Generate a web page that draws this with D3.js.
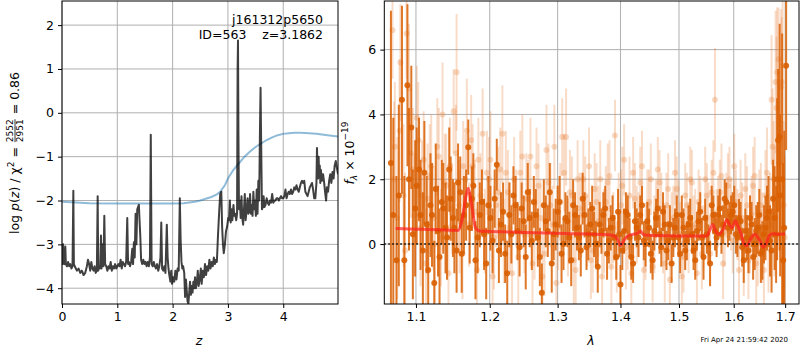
<!DOCTYPE html>
<html><head><meta charset="utf-8">
<script src="https://cdn.jsdelivr.net/npm/d3@7"></script>
<style>body{margin:0;background:#fff}text{font-family:"DejaVu Sans",sans-serif}</style>
</head><body><svg id="c" width="800" height="350"></svg>
<script>
// ---- p(z) panel data ----
const pzZ = [0.00,0.01,0.02,0.03,0.045,0.06,0.07,0.09,0.11,0.13,0.15,0.17,0.19,0.205,0.215,0.23,0.25,0.27,0.30,0.33,0.36,0.39,0.42,0.45,0.47,0.49,0.51,0.53,0.55,0.57,0.59,0.61,0.63,0.645,0.655,0.67,0.69,0.705,0.715,0.735,0.75,0.765,0.78,0.80,0.82,0.84,0.86,0.88,0.90,0.92,0.94,0.96,0.98,1.00,1.02,1.04,1.06,1.08,1.10,1.12,1.14,1.16,1.18,1.195,1.21,1.23,1.25,1.27,1.285,1.30,1.315,1.33,1.345,1.36,1.375,1.39,1.40,1.415,1.43,1.45,1.47,1.49,1.51,1.53,1.55,1.57,1.59,1.605,1.62,1.64,1.66,1.68,1.70,1.72,1.74,1.76,1.78,1.795,1.81,1.83,1.85,1.87,1.895,1.91,1.925,1.94,1.96,1.975,1.99,2.01,2.03,2.05,2.07,2.09,2.11,2.13,2.145,2.16,2.175,2.19,2.21,2.225,2.24,2.255,2.27,2.285,2.30,2.315,2.33,2.345,2.36,2.375,2.39,2.405,2.42,2.44,2.455,2.47,2.49,2.51,2.525,2.545,2.565,2.585,2.605,2.625,2.645,2.665,2.685,2.705,2.725,2.745,2.765,2.785,2.80,2.82,2.84,2.86,2.88,2.895,2.91,2.925,2.945,2.965,2.985,3.005,3.02,3.035,3.05,3.065,3.08,3.10,3.115,3.13,3.15,3.165,3.175,3.182,3.19,3.20,3.215,3.23,3.245,3.26,3.275,3.29,3.305,3.32,3.34,3.355,3.37,3.385,3.40,3.415,3.43,3.445,3.46,3.475,3.49,3.505,3.52,3.535,3.55,3.565,3.58,3.59,3.60,3.615,3.63,3.645,3.66,3.68,3.70,3.72,3.74,3.76,3.78,3.80,3.82,3.84,3.86,3.88,3.90,3.92,3.94,3.96,3.98,4.00,4.02,4.04,4.06,4.08,4.10,4.12,4.14,4.16,4.18,4.20,4.22,4.24,4.26,4.28,4.30,4.32,4.34,4.36,4.38,4.40,4.42,4.44,4.46,4.48,4.50,4.52,4.54,4.56,4.58,4.60,4.61,4.62,4.63,4.64,4.65,4.66,4.67,4.68,4.70,4.72,4.74,4.76,4.775,4.79,4.81,4.83,4.85,4.87,4.89,4.91,4.93,4.95,4.97,4.99];
const pzLog = [-3.0,-3.45,-3.0,-3.4,-3.45,-3.05,-3.45,-3.5,-3.4,-3.5,-3.45,-3.55,-3.5,-1.78,-3.45,-3.5,-3.55,-3.6,-3.55,-3.65,-3.6,-3.7,-3.65,-3.5,-3.35,-3.45,-3.6,-3.4,-3.55,-3.6,-3.5,-3.65,-3.6,-1.9,-3.6,-3.5,-3.55,-2.8,-3.55,-3.0,-3.5,-2.35,-3.45,-3.5,-3.6,-3.5,-3.55,-3.4,-3.6,-3.5,-3.55,-3.45,-3.55,-3.5,-3.45,-3.5,-3.35,-3.55,-3.4,-3.45,-3.5,-3.4,-2.4,-3.45,-3.4,-3.5,-3.4,-3.1,-3.45,-2.95,-3.3,-2.3,-3.0,-2.2,-2.15,-2.1,-2.4,-2.8,-3.35,-3.45,-3.35,-3.45,-3.4,-3.5,-3.4,-3.5,-3.3,-0.5,-3.45,-3.5,-3.4,-3.5,-3.55,-3.45,-3.6,-3.5,-3.3,-2.5,-3.55,-3.6,-3.5,-3.65,-2.55,-3.3,-3.55,-3.7,-3.85,-3.6,-3.9,-3.75,-3.85,-3.6,-3.8,-3.55,-3.6,-1.95,-2.9,-3.4,-3.55,-3.5,-3.65,-4.2,-3.8,-4.05,-4.3,-4.35,-4.1,-3.85,-4.15,-3.95,-4.1,-3.85,-4.0,-3.75,-4.0,-3.85,-3.6,-3.95,-3.8,-3.55,-3.9,-3.6,-3.75,-3.45,-3.7,-3.5,-3.6,-3.35,-3.55,-3.4,-3.5,-3.3,-3.45,-3.35,-3.4,-2.8,-2.3,-1.85,-1.8,-2.6,-3.0,-3.2,-3.0,-2.7,-2.6,-2.4,-2.45,-2.0,-2.5,-2.2,-2.45,-2.1,-2.35,-2.3,-2.45,-2.3,1.0,1.65,-0.5,-2.2,-2.0,-2.4,-1.9,-2.4,-2.55,-2.2,-1.85,-2.45,-2.2,-1.95,-2.3,-2.25,-1.85,-2.3,-2.1,-2.35,-1.8,-2.2,-2.0,-2.35,-1.75,-2.3,-1.55,-2.0,-0.3,0.57,-0.6,-2.2,-2.15,-1.9,-2.15,-2.1,-1.95,-2.05,-2.1,-2.0,-2.05,-1.85,-2.05,-2.0,-2.0,-1.95,-1.95,-2.0,-1.95,-1.9,-1.95,-1.95,-1.9,-1.75,-1.95,-1.85,-1.8,-1.85,-1.75,-1.85,-1.8,-1.7,-1.75,-1.65,-1.75,-1.8,-1.7,-1.6,-1.55,-1.6,-1.55,-1.8,-1.85,-1.9,-1.8,-1.7,-1.65,-1.6,-1.75,-1.95,-1.95,-1.6,-0.8,-1.3,-1.5,-1.0,-1.45,-1.2,-1.6,-1.3,-1.55,-1.4,-1.6,-1.85,-2.0,-1.7,-1.8,-1.55,-1.4,-1.6,-1.35,-1.5,-1.2,-1.1,-1.25,-1.4];
const priorZ = [0,0.5,1.0,1.5,2.0,2.2,2.4,2.5,2.6,2.7,2.8,2.86,2.95,3.0,3.1,3.2,3.3,3.4,3.5,3.6,3.7,3.8,3.9,4.0,4.1,4.2,4.3,4.4,4.6,4.8,4.99];
const priorLog = [-2.03,-2.06,-2.07,-2.07,-2.07,-2.06,-2.03,-2.0,-1.96,-1.92,-1.86,-1.8,-1.64,-1.5,-1.3,-1.15,-1.0,-0.88,-0.78,-0.7,-0.62,-0.56,-0.51,-0.48,-0.465,-0.455,-0.455,-0.46,-0.48,-0.51,-0.54];
const zTicks = [0,1,2,3,4];
const pzTicks = [-4,-3,-2,-1,0,1,2];

// ---- spectrum panel data (f_lambda x 1e-19) ----
const darkWave = [1.068,1.075,1.082,1.089,1.094,1.099,1.104,1.109,1.114,1.119,1.124,1.129,1.134,1.139,1.144,1.149,1.154,1.159,1.164,1.170,1.175,1.180,1.186,1.192,1.198,1.204,1.210,1.216,1.222,1.228,1.234,1.240,1.246,1.252,1.258,1.264,1.270,1.276,1.282,1.288,1.294,1.300,1.306,1.312,1.318,1.324,1.330,1.336,1.342,1.348,1.354,1.360,1.366,1.372,1.378,1.384,1.390,1.396,1.400,1.406,1.412,1.418,1.424,1.430,1.436,1.442,1.448,1.454,1.460,1.466,1.472,1.478,1.484,1.490,1.496,1.502,1.508,1.514,1.520,1.526,1.532,1.538,1.544,1.550,1.556,1.562,1.568,1.574,1.580,1.586,1.592,1.598,1.604,1.610,1.616,1.622,1.628,1.634,1.640,1.646,1.652,1.658,1.664,1.670,1.676,1.682,1.686,1.690,1.694,1.698,1.702];
const darkFlux = [2.5,-0.5,4.45,4.9,3.6,1.1,2.3,-0.2,0.6,1.2,-1.2,0.4,1.3,0.5,2.3,0.8,-0.2,1.6,0.9,2.99,1.4,-0.5,0.9,0.3,1.2,0.1,2.45,0.6,-0.3,0.9,1.5,0.4,1.1,-0.4,0.8,1.3,0.2,-1.5,0.7,1.6,0.3,1.0,-0.3,0.8,0.2,1.2,0.5,-0.2,0.9,0.3,1.1,0.0,0.6,0.9,-0.3,0.5,0.2,1.0,-1.25,0.4,0.9,-0.4,0.7,0.2,1.2,0.0,0.5,-0.5,0.8,0.3,1.0,-0.2,0.6,0.2,0.9,-0.3,0.5,0.1,0.8,-0.2,0.4,1.0,-0.4,0.3,-0.6,0.9,0.2,1.1,0.6,1.3,0.7,1.0,0.3,0.8,-0.1,0.4,-0.2,0.6,0.0,0.5,-0.3,0.3,0.8,0.1,1.4,0.3,3.2,1.5,2.0,0.5,5.5];
const darkErr = [4.7,2.6,2.9,2.5,1.9,2.1,1.6,1.8,1.5,1.6,1.3,1.4,1.3,1.4,1.3,1.2,1.3,1.1,1.2,0.85,1.0,1.2,1.0,1.1,0.9,1.0,0.8,1.0,0.9,1.0,0.9,0.9,0.8,1.0,0.9,0.8,0.9,0.9,0.8,0.9,0.8,0.8,0.9,0.8,0.8,0.8,0.7,0.8,0.7,0.8,0.7,0.7,0.7,0.7,0.8,0.7,0.7,0.7,0.6,0.7,0.6,0.7,0.6,0.6,0.6,0.7,0.6,0.6,0.6,0.6,0.6,0.6,0.6,0.6,0.6,0.6,0.6,0.6,0.6,0.6,0.6,0.6,0.7,0.6,0.7,0.6,0.6,0.6,0.6,0.6,0.6,0.6,0.6,0.6,0.6,0.7,0.7,0.7,0.8,0.8,0.9,0.9,1.0,1.1,1.2,1.5,2.2,2.5,4.5,3.0,2.6];
const dark2Wave = [1.071,1.078,1.085,1.091,1.096,1.101,1.106,1.111,1.116,1.121,1.126,1.131,1.136,1.141,1.146,1.151,1.156,1.161,1.167,1.172,1.177,1.183,1.189,1.195,1.201,1.207,1.213,1.219,1.225,1.231,1.237,1.243,1.249,1.255,1.261,1.267,1.273,1.279,1.285,1.291,1.297,1.303,1.309,1.315,1.321,1.327,1.333,1.339,1.345,1.351,1.357,1.363,1.369,1.375,1.381,1.387,1.393,1.398,1.403,1.409,1.415,1.421,1.427,1.433,1.439,1.445,1.451,1.457,1.463,1.469,1.475,1.481,1.487,1.493,1.499,1.505,1.511,1.517,1.523,1.529,1.535,1.541,1.547,1.553,1.559,1.565,1.571,1.577,1.583,1.589,1.595,1.601,1.607,1.613,1.619,1.625,1.631,1.637,1.643,1.649,1.655,1.661,1.667,1.673,1.679,1.684,1.689,1.696];
const dark2Flux = [0.9,1.5,-0.5,2.0,0.3,1.8,0.9,2.2,-0.8,0.9,1.7,-0.4,1.1,0.2,1.4,0.5,1.9,-0.3,1.2,0.5,1.8,0.2,1.3,-0.6,0.8,1.4,-0.2,1.0,-0.9,0.3,1.2,-0.1,0.7,1.6,0.1,0.9,-0.4,1.2,0.4,-0.6,0.6,1.3,0.0,0.7,-0.5,0.9,0.2,1.4,-0.1,0.6,0.3,-0.7,0.4,1.1,0.1,0.8,-0.4,0.3,-0.2,1.0,0.2,-0.6,0.5,0.9,0.1,0.7,-0.3,0.4,1.1,-0.1,0.6,0.1,-0.6,0.5,0.2,0.9,-0.2,0.6,0.3,-0.5,0.7,0.2,0.8,0.0,1.2,0.4,0.9,0.3,1.4,0.5,0.9,1.2,0.2,0.7,-0.5,0.2,0.8,-0.4,0.4,0.9,-0.2,0.5,1.0,-0.2,0.8,2.0,3.3,-0.5];
const dark2Err = [3.0,2.8,2.6,2.2,2.0,1.8,1.7,1.6,1.5,1.6,1.4,1.5,1.4,1.3,1.3,1.4,1.2,1.2,1.1,1.1,1.0,1.1,1.0,1.1,1.0,0.9,1.0,0.9,1.0,0.9,0.9,0.9,0.8,0.9,0.9,0.8,0.9,0.8,0.8,0.9,0.8,0.8,0.8,0.8,0.8,0.7,0.7,0.8,0.7,0.7,0.7,0.8,0.7,0.7,0.7,0.7,0.7,0.7,0.6,0.6,0.6,0.6,0.6,0.6,0.6,0.6,0.6,0.6,0.6,0.6,0.6,0.6,0.6,0.6,0.6,0.6,0.6,0.6,0.6,0.6,0.6,0.6,0.6,0.6,0.6,0.6,0.6,0.6,0.6,0.6,0.6,0.6,0.6,0.6,0.7,0.7,0.7,0.7,0.8,0.8,0.9,1.0,1.1,1.3,1.6,2.5,3.5,3.0];
const lightWave = [1.070,1.073,1.076,1.080,1.084,1.088,1.091,1.096,1.101,1.106,1.110,1.115,1.120,1.125,1.130,1.135,1.140,1.145,1.150,1.154,1.158,1.163,1.168,1.174,1.179,1.184,1.190,1.196,1.201,1.206,1.212,1.218,1.223,1.229,1.235,1.241,1.247,1.253,1.259,1.265,1.271,1.277,1.283,1.289,1.295,1.301,1.307,1.313,1.319,1.325,1.331,1.337,1.343,1.349,1.355,1.361,1.367,1.373,1.379,1.385,1.391,1.397,1.403,1.409,1.415,1.421,1.427,1.433,1.439,1.445,1.451,1.457,1.463,1.469,1.475,1.481,1.487,1.493,1.499,1.505,1.511,1.517,1.523,1.529,1.535,1.541,1.547,1.553,1.559,1.565,1.571,1.577,1.583,1.589,1.595,1.601,1.607,1.613,1.619,1.625,1.631,1.637,1.643,1.649,1.655,1.661,1.667,1.673,1.677,1.681,1.684,1.687,1.692,1.695,1.699];
const lightFlux = [6.6,3.0,0.8,5.6,1.5,6.5,4.8,2.3,3.9,0.5,2.6,1.4,2.4,0.0,2.7,4.0,1.8,2.4,4.1,5.3,0.7,2.4,3.5,3.2,1.0,2.6,3.4,2.2,2.6,0.2,1.6,3.4,2.2,0.5,2.0,-0.4,2.7,1.4,2.7,0.3,1.8,-1.0,2.9,1.2,3.0,0.5,3.3,3.3,1.6,-0.5,2.0,0.9,1.5,2.4,-0.2,1.3,2.0,0.4,1.9,-0.7,3.35,1.0,1.8,-0.1,1.5,2.2,0.6,1.9,-0.8,1.2,2.0,0.3,2.3,1.1,-0.6,1.7,0.5,2.2,0.9,-1.0,1.5,0.2,1.9,0.6,1.3,-0.3,2.0,0.8,1.6,4.45,1.0,2.1,0.4,1.8,0.9,2.4,0.6,1.5,-0.4,1.2,0.3,1.8,-0.6,1.0,0.2,1.5,0.0,4.45,2.0,5.0,5.3,5.7,4.85,5.5,0.2];
const lightErr = [1.5,2.0,2.5,1.8,2.2,1.4,2.0,1.9,1.6,1.8,1.5,1.7,1.6,1.8,1.5,1.6,1.6,1.5,1.3,1.8,1.6,1.4,1.6,1.4,1.6,1.3,1.4,1.3,1.5,1.6,1.4,1.5,1.3,1.4,1.3,1.5,1.3,1.4,1.2,1.4,1.3,1.4,1.4,1.3,1.3,1.3,1.2,1.5,1.3,1.4,1.2,1.3,1.2,1.2,1.3,1.2,1.2,1.3,1.2,1.2,1.1,1.2,1.2,1.3,1.2,1.1,1.2,1.1,1.2,1.1,1.1,1.2,1.0,1.1,1.2,1.1,1.1,1.0,1.1,1.1,1.0,1.1,1.0,1.1,1.0,1.1,1.0,1.1,1.0,1.6,1.1,1.0,1.1,1.0,1.1,1.0,1.1,1.1,1.2,1.2,1.2,1.2,1.3,1.3,1.4,1.4,1.5,2.0,1.8,2.2,2.0,1.6,2.4,2.0,2.5];
const light2Wave = [1.072,1.079,1.086,1.093,1.098,1.103,1.108,1.113,1.118,1.123,1.128,1.133,1.138,1.143,1.148,1.153,1.157,1.162,1.166,1.171,1.176,1.182,1.187,1.193,1.199,1.204,1.209,1.215,1.220,1.226,1.232,1.238,1.244,1.250,1.256,1.262,1.268,1.274,1.280,1.286,1.292,1.298,1.304,1.310,1.316,1.322,1.328,1.334,1.340,1.346,1.352,1.358,1.364,1.370,1.376,1.382,1.388,1.394,1.401,1.406,1.412,1.418,1.424,1.430,1.436,1.442,1.448,1.454,1.460,1.466,1.472,1.478,1.484,1.490,1.496,1.502,1.508,1.514,1.520,1.526,1.532,1.538,1.544,1.550,1.556,1.562,1.568,1.574,1.580,1.586,1.592,1.598,1.604,1.610,1.616,1.622,1.628,1.634,1.640,1.646,1.652,1.658,1.664,1.670,1.675,1.679,1.683,1.688,1.693,1.697];
const light2Flux = [2.0,3.5,-0.2,2.8,0.9,3.2,1.5,-0.6,2.1,0.8,3.0,0.2,1.9,-0.9,1.1,2.8,1.2,-0.3,2.0,0.6,2.4,-0.8,1.5,0.4,2.0,-1.0,1.2,2.3,0.1,1.6,-0.9,1.1,2.2,0.3,1.4,-0.6,2.4,0.8,-0.3,1.9,0.6,-1.2,1.3,2.2,0.2,1.5,-0.8,1.1,2.0,0.4,-0.5,1.7,0.7,-1.0,1.3,2.1,0.5,-0.4,1.2,2.6,0.3,-0.9,1.4,0.6,2.4,0.0,1.3,-0.7,1.0,1.9,0.2,1.2,-1.1,0.8,1.7,0.3,-0.4,1.2,2.0,0.5,-0.9,1.1,0.2,1.5,-0.3,2.2,0.7,1.6,-0.6,1.2,2.0,0.1,1.3,-0.8,0.8,1.7,-0.5,0.9,2.1,0.0,1.2,-0.8,2.2,0.6,3.0,1.0,4.2,2.5,5.0,1.2];
const light2Err = [2.4,2.2,2.4,2.0,1.9,1.8,1.7,1.7,1.6,1.6,1.5,1.5,1.5,1.5,1.4,1.5,1.4,1.4,1.4,1.3,1.3,1.4,1.3,1.3,1.3,1.4,1.3,1.3,1.3,1.3,1.3,1.2,1.3,1.2,1.2,1.3,1.2,1.2,1.3,1.2,1.2,1.2,1.2,1.2,1.2,1.2,1.2,1.1,1.2,1.1,1.2,1.1,1.1,1.2,1.1,1.1,1.1,1.1,1.1,1.1,1.1,1.1,1.1,1.0,1.1,1.1,1.0,1.1,1.0,1.0,1.1,1.0,1.1,1.0,1.0,1.0,1.1,1.0,1.0,1.0,1.0,1.0,1.0,1.0,1.0,1.0,1.0,1.0,1.1,1.0,1.0,1.0,1.0,1.1,1.1,1.1,1.2,1.2,1.2,1.3,1.3,1.4,1.4,1.6,1.8,2.0,2.2,2.4,2.0,2.6];
const modelWave = [1.074,1.100,1.130,1.156,1.162,1.167,1.170,1.174,1.180,1.186,1.200,1.250,1.300,1.350,1.380,1.390,1.396,1.400,1.405,1.412,1.420,1.428,1.433,1.438,1.445,1.500,1.550,1.556,1.561,1.566,1.572,1.580,1.587,1.592,1.597,1.603,1.608,1.614,1.620,1.625,1.632,1.640,1.650,1.657,1.662,1.668,1.675,1.685,1.700];
const modelFlux = [0.48,0.46,0.44,0.42,0.8,1.5,1.72,1.3,0.5,0.4,0.39,0.36,0.33,0.31,0.29,0.25,0.12,-0.05,0.1,0.25,0.3,0.33,0.4,0.3,0.27,0.25,0.25,0.45,0.6,0.4,0.3,0.45,0.75,0.6,0.5,0.72,0.55,0.3,0.0,-0.05,0.15,0.3,0.1,-0.1,0.0,0.25,0.32,0.3,0.32];
const lamTicks = [1.1,1.2,1.3,1.4,1.5,1.6,1.7];
const fTicks = [0,2,4,6];

const svg = d3.select("#c");
const FS = 12.5;
const gridCol = "#b0b0b0";

const xL = d3.scaleLinear().domain([0,4.99]).range([62,338]);
const yL = d3.scaleLinear().domain([-4.36,2.55]).range([304,1]);
const xR = d3.scaleLog().domain([1.0597,1.728]).range([384.3,799]);
const yR = d3.scaleLinear().domain([-1.85,7.5]).range([304,1]);

function panel(x, y, xt, yt, xfmt, yfmt, id){
  const [x0,x1]=x.range(), [y0,y1]=y.range();
  svg.append("clipPath").attr("id",id).append("rect").attr("x",x0).attr("y",y1).attr("width",x1-x0).attr("height",y0-y1);
  const g = svg.append("g");
  g.selectAll(".gx").data(xt).join("line").attr("x1",d=>x(d)).attr("x2",d=>x(d)).attr("y1",y1).attr("y2",y0).attr("stroke",gridCol).attr("stroke-width",1);
  g.selectAll(".gy").data(yt).join("line").attr("y1",d=>y(d)).attr("y2",d=>y(d)).attr("x1",x0).attr("x2",x1).attr("stroke",gridCol).attr("stroke-width",1);
  const ax = svg.append("g").attr("transform",`translate(0,${y0})`).call(d3.axisBottom(x).tickValues(xt).tickFormat(xfmt).tickSize(4).tickPadding(4));
  const ay = svg.append("g").attr("transform",`translate(${x0},0)`).call(d3.axisLeft(y).tickValues(yt).tickFormat(yfmt).tickSize(4).tickPadding(4));
  [ax,ay].forEach(a=>{a.select(".domain").remove();a.selectAll("text").attr("font-size",FS).attr("font-family","DejaVu Sans").attr("fill","#000");a.selectAll("line").attr("stroke","#000");});
  return g;
}
panel(xL,yL,zTicks,pzTicks,d3.format("d"),d3.format("d"),"clipL");
panel(xR,yR,lamTicks,fTicks,d3.format(".1f"),d3.format("d"),"clipR");

// left panel lines
const lineL = d3.line().x(d=>xL(d[0])).y(d=>yL(d[1]));
const dl = svg.append("g").attr("clip-path","url(#clipL)");
dl.append("path").attr("d",lineL(priorZ.map((z,i)=>[z,priorLog[i]]))).attr("fill","none").attr("stroke","#1f77b4").attr("stroke-opacity",0.5).attr("stroke-width",2);
dl.append("path").attr("d",lineL(pzZ.map((z,i)=>[z,pzLog[i]]))).attr("fill","none").attr("stroke","#000").attr("stroke-opacity",0.75).attr("stroke-width",2).attr("stroke-linejoin","round");

// right panel errorbars
const dr = svg.append("g").attr("clip-path","url(#clipR)");
function errs(wave, flux, err, col, lop, pop){
  const g = dr.append("g");
  const d = wave.map((w,i)=>({w, f:flux[i], e:err[i]}));
  g.selectAll("line").data(d).join("line").attr("x1",d=>xR(d.w)).attr("x2",d=>xR(d.w)).attr("y1",d=>yR(d.f-d.e)).attr("y2",d=>yR(d.f+d.e)).attr("stroke",col).attr("stroke-opacity",lop).attr("stroke-width",2);
  g.selectAll("circle").data(d).join("circle").attr("cx",d=>xR(d.w)).attr("cy",d=>yR(d.f)).attr("r",3).attr("fill",col).attr("fill-opacity",pop);
}
errs(lightWave,lightFlux,lightErr,"#e8833a",0.28,0.3);
errs(light2Wave,light2Flux,light2Err,"#e8833a",0.28,0.3);
errs(darkWave,darkFlux,darkErr,"#d95f02",0.85,0.9);
errs(dark2Wave,dark2Flux,dark2Err,"#d95f02",0.85,0.9);
const lineR = d3.line().x(d=>xR(d[0])).y(d=>yR(d[1])).curve(d3.curveMonotoneX);
dr.append("path").attr("d",lineR(modelWave.map((w,i)=>[w,modelFlux[i]]))).attr("fill","none").attr("stroke","#ff2020").attr("stroke-opacity",0.7).attr("stroke-width",3);
dr.append("line").attr("x1",xR.range()[0]).attr("x2",xR.range()[1]).attr("y1",yR(0)).attr("y2",yR(0)).attr("stroke","#000").attr("stroke-width",1.5).attr("stroke-dasharray","1.5,2.5");

// frames
[[xL,yL],[xR,yR]].forEach(([x,y])=>{
  const [x0,x1]=x.range(), [y0,y1]=y.range();
  svg.append("rect").attr("x",x0).attr("y",y1).attr("width",x1-x0).attr("height",y0-y1).attr("fill","none").attr("stroke","#000").attr("stroke-width",1);
});

// annotation
svg.append("text").attr("x",323).attr("y",24).attr("text-anchor","end").attr("font-size",FS).text("j161312p5650");
svg.append("text").attr("x",323).attr("y",39).attr("text-anchor","end").attr("font-size",FS).attr("xml:space","preserve").text("ID=563    z=3.1862");

// axis labels
svg.append("text").attr("x",199).attr("y",345).attr("text-anchor","middle").attr("font-size",FS).attr("font-style","italic").text("z");
svg.append("text").attr("x",591).attr("y",345).attr("text-anchor","middle").attr("font-size",FS).attr("font-style","italic").text("λ");

// left y label
{
  const g = svg.append("g").attr("transform","translate(19,153) rotate(-90)");
  const t1 = g.append("text").attr("font-size",FS);
  t1.append("tspan").text("log ");
  t1.append("tspan").attr("font-style","italic").text("p");
  t1.append("tspan").text("(");
  t1.append("tspan").attr("font-style","italic").text("z");
  t1.append("tspan").text(") / χ");
  t1.append("tspan").attr("font-size",9).attr("dy",-5).text("2");
  t1.append("tspan").attr("dy",5).attr("xml:space","preserve").text(" = ");
  const w1 = t1.node().getComputedTextLength();
  const num = g.append("text").attr("font-size",9).text("2552");
  const den = g.append("text").attr("font-size",9).text("2951");
  const wf = Math.max(num.node().getComputedTextLength(), den.node().getComputedTextLength());
  const t3 = g.append("text").attr("font-size",FS).attr("xml:space","preserve").text(" = 0.86");
  const w3 = t3.node().getComputedTextLength();
  const total = w1 + wf + 2 + w3;
  const s = -total/2;
  t1.attr("x",s);
  num.attr("x",s+w1+1).attr("y",-6);
  den.attr("x",s+w1+1).attr("y",4);
  g.append("line").attr("x1",s+w1+1).attr("x2",s+w1+1+wf).attr("y1",-4).attr("y2",-4).attr("stroke","#000").attr("stroke-width",0.8);
  t3.attr("x",s+w1+wf+2);
}
// right y label
{
  const g = svg.append("g").attr("transform","translate(354,153) rotate(-90)");
  const t = g.append("text").attr("font-size",FS).attr("text-anchor","middle");
  t.append("tspan").attr("font-style","italic").text("f");
  t.append("tspan").attr("font-style","italic").attr("font-size",9).attr("dy",3).text("λ");
  t.append("tspan").attr("dy",-3).attr("xml:space","preserve").text(" × 10");
  t.append("tspan").attr("font-size",9).attr("dy",-6).text("−19");
}
// timestamp
svg.append("text").attr("x",788).attr("y",342).attr("text-anchor","end").attr("font-size",7).text("Fri Apr 24 21:59:42 2020");
</script></body></html>
